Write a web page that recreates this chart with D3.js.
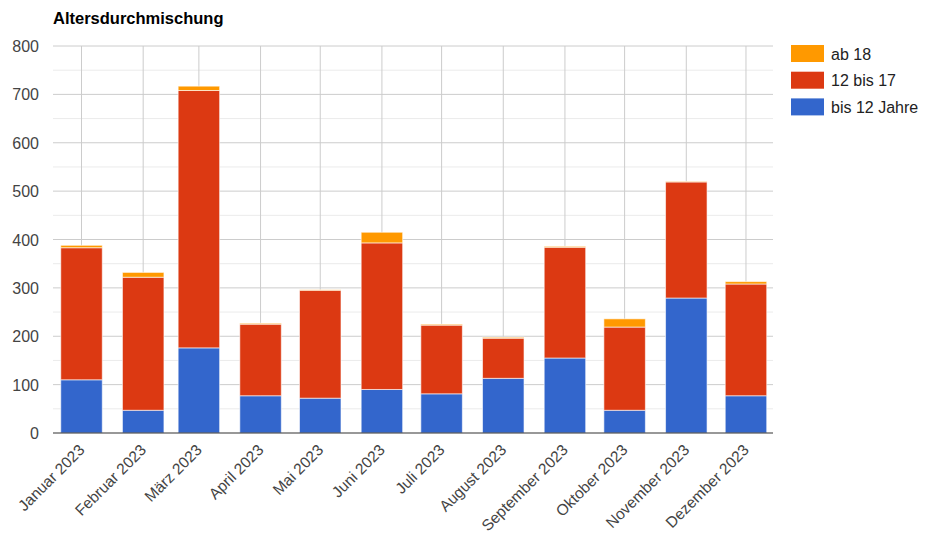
<!DOCTYPE html>
<meta charset="utf-8">
<script src="https://d3js.org/d3.v7.min.js"></script>
<style>
  body { margin: 0; background: #fff; }
  text { font-family: Arial, "Liberation Sans", sans-serif; }
</style>
<body>
<div id="chart"></div>
<script>
  // data
  const months = ["Januar 2023", "Februar 2023", "März 2023", "April 2023", "Mai 2023", "Juni 2023",
                  "Juli 2023", "August 2023", "September 2023", "Oktober 2023", "November 2023", "Dezember 2023"];
  const dates = d3.range(12).map(i => new Date(2023, i, 1));
  const bis12 = [110, 47, 176, 77, 72, 90, 81, 113, 155, 47, 279, 77];
  const von12bis17 = [273, 275, 532, 148, 223, 303, 142, 83, 229, 172, 240, 231];
  const ab18 = [5, 10, 9, 2, 1, 22, 2, 2, 2, 17, 1, 5];
  const yTicks = [0, 100, 200, 300, 400, 500, 600, 700, 800];

  const seriesNames = ["bis 12 Jahre", "12 bis 17", "ab 18"];
  const colors = ["#3366cc", "#dc3912", "#ff9900"];

  const width = 925, height = 547;
  const plot = {left: 53, right: 773, top: 46, bottom: 433};

  const svg = d3.select("#chart").append("svg")
      .attr("width", width)
      .attr("height", height);

  const rows = dates.map((d, i) => ({date: d, label: months[i], s0: bis12[i], s1: von12bis17[i], s2: ab18[i]}));
  const stack = d3.stack().keys(["s0", "s1", "s2"])(rows);

  // time axis, bars sit on the first of the month
  const x = d3.scaleTime()
      .domain([d3.timeHour.offset(dates[0], -14.3 * 24), d3.timeHour.offset(dates[11], 13.6 * 24)])
      .range([plot.left, plot.right]);
  const y = d3.scaleLinear().domain([0, 800]).range([plot.bottom, plot.top]);
  const barW = 41.5;

  // minor gridlines
  svg.append("g").selectAll("line")
    .data(d3.range(50, 800, 100))
    .join("line")
      .attr("x1", plot.left).attr("x2", plot.right)
      .attr("y1", d => y(d)).attr("y2", d => y(d))
      .attr("stroke", "#ebebeb");

  // major gridlines
  svg.append("g").selectAll("line")
    .data(yTicks.slice(1))
    .join("line")
      .attr("x1", plot.left).attr("x2", plot.right)
      .attr("y1", d => y(d)).attr("y2", d => y(d))
      .attr("stroke", "#cccccc");

  svg.append("g").selectAll("line")
    .data(dates)
    .join("line")
      .attr("x1", d => x(d)).attr("x2", d => x(d))
      .attr("y1", plot.top).attr("y2", plot.bottom)
      .attr("stroke", "#cccccc");

  // bars
  svg.append("g").selectAll("g")
    .data(stack)
    .join("g")
      .attr("fill", (d, i) => colors[i])
    .selectAll("rect")
    .data(d => d)
    .join("rect")
      .attr("x", d => x(d.data.date) - barW / 2)
      .attr("width", barW)
      .attr("y", d => y(d[1]))
      .attr("height", d => Math.max(0, y(d[0]) - y(d[1])))
      .attr("stroke", "#ffffff")
      .attr("stroke-opacity", 0.6)
      .attr("stroke-width", 1);

  // baseline
  svg.append("line")
      .attr("x1", plot.left).attr("x2", plot.right)
      .attr("y1", y(0)).attr("y2", y(0))
      .attr("stroke", "#333333")
      .attr("stroke-width", 1.2);

  // y labels
  svg.append("g").selectAll("text")
    .data(yTicks)
    .join("text")
      .attr("x", 39)
      .attr("y", d => y(d) + 6)
      .attr("text-anchor", "end")
      .attr("fill", "#444")
      .style("font-size", "16px")
      .text(d => d);

  // x labels
  svg.append("g").selectAll("text")
    .data(rows)
    .join("text")
      .attr("transform", d => `translate(${x(d.date) + 4},${plot.bottom + 18}) rotate(-45)`)
      .attr("text-anchor", "end")
      .attr("fill", "#444")
      .style("font-size", "15.5px")
      .text(d => d.label);

  // title
  svg.append("text")
      .attr("x", 53)
      .attr("y", 24)
      .attr("font-weight", "bold")
      .attr("fill", "#000")
      .style("font-size", "16.5px")
      .text("Altersdurchmischung");

  // legend (reverse order: top series first)
  const legend = svg.append("g").selectAll("g")
    .data([2, 1, 0])
    .join("g")
      .attr("transform", (d, i) => `translate(791,${45 + i * 26.7})`);
  legend.append("rect")
      .attr("width", 33).attr("height", 17)
      .attr("fill", d => colors[d]);
  legend.append("text")
      .attr("x", 40).attr("y", 14.5)
      .attr("fill", "#222")
      .style("font-size", "16px")
      .text(d => seriesNames[d]);
</script>
</body>
